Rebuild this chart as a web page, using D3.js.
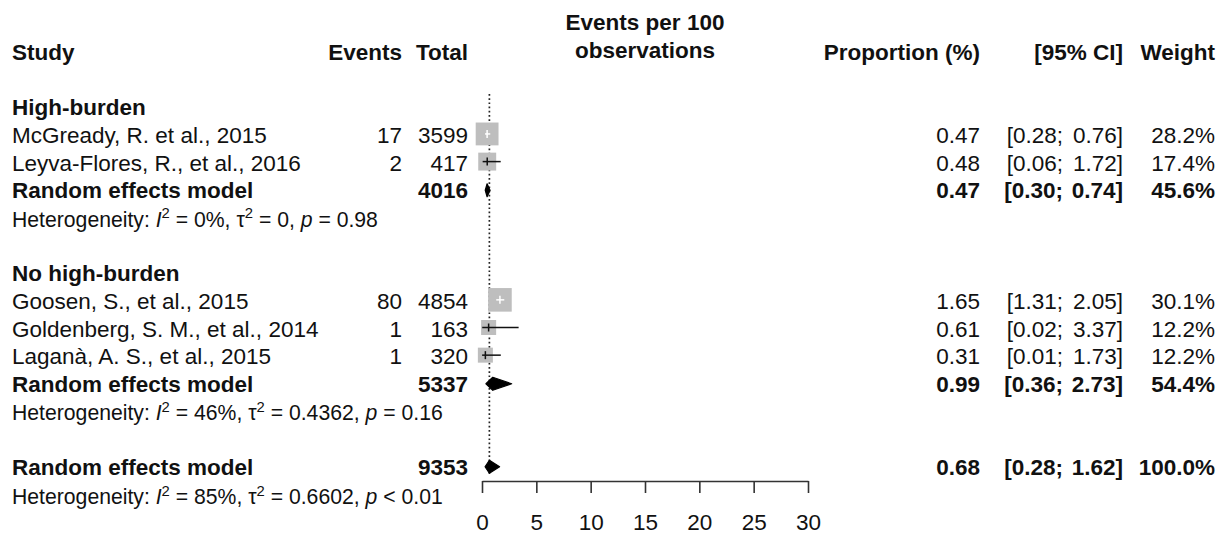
<!DOCTYPE html>
<html><head><meta charset="utf-8">
<script src="https://cdn.jsdelivr.net/npm/d3@7"></script>
<style>
html,body{margin:0;padding:0;background:#fff;}
svg text{font-family:"Liberation Sans",Arial,sans-serif;fill:#111;}
</style></head>
<body>
<svg id="chart" width="1228" height="534"></svg>
<script>
// ---- data ----
const studies = ["McGready, R. et al., 2015", "Leyva-Flores, R., et al., 2016", "Goosen, S., et al., 2015", "Goldenberg, S. M., et al., 2014", "Laganà, A. S., et al., 2015"];
const studyGroup = [0, 0, 1, 1, 1];
const events = [17, 2, 80, 1, 1];
const totals = [3599, 417, 4854, 163, 320];
const props = [0.47, 0.48, 1.65, 0.61, 0.31];
const lower = [0.28, 0.06, 1.31, 0.02, 0.01];
const upper = [0.76, 1.72, 2.05, 3.37, 1.73];
const weights = [28.2, 17.4, 30.1, 12.2, 12.2];

const groupNames = ["High-burden", "No high-burden"];
const groupTotals = [4016, 5337];
const groupProps = [0.47, 0.99];
const groupLower = [0.30, 0.36];
const groupUpper = [0.74, 2.73];
const groupWeights = [45.6, 54.4];
const groupI2 = ["0%", "46%"];
const groupTau2 = ["0", "0.4362"];
const groupP = ["= 0.98", "= 0.16"];

const overallTotal = 9353;
const overallProp = 0.68;
const overallLower = 0.28;
const overallUpper = 1.62;
const overallWeight = 100.0;
const overallI2 = "85%";
const overallTau2 = "0.6602";
const overallP = "< 0.01";

const xTicks = [0, 5, 10, 15, 20, 25, 30];
const headers = {study: "Study", events: "Events", total: "Total", plot: ["Events per 100", "observations"], prop: "Proportion (%)", ci: "[95% CI]", weight: "Weight"};

// ---- layout ----
const svg = d3.select("#chart");
const FS = 22.5, FSH = 21.2;
const x = d3.scaleLinear().domain([0, 30]).range([482, 808]);
const sq = d3.scaleSqrt().domain([0, 100]).range([0, 43]);
const col = {study: 12, events: 402, total: 468, prop: 980, ciLo: 1063, ciHi: 1123, weight: 1215};
const rowH = 27.65, row0 = 52;
const rowY = i => row0 + i * rowH;

function txt(xp, yp, s, opt = {}) {
  return svg.append("text").attr("x", xp).attr("y", yp).attr("dy", "0.36em")
    .attr("font-size", opt.size || FS).attr("font-weight", opt.bold ? "bold" : "normal")
    .attr("text-anchor", opt.anchor || "start").text(s);
}
const f2 = v => v.toFixed(2);
const fw = v => v.toFixed(1) + "%";

// headers
txt(col.study, rowY(0), headers.study, {bold: true});
txt(col.events, rowY(0), headers.events, {bold: true, anchor: "end"});
txt(col.total, rowY(0), headers.total, {bold: true, anchor: "end"});
txt((x(0) + x(30)) / 2, 22, headers.plot[0], {bold: true, anchor: "middle"});
txt((x(0) + x(30)) / 2, 50, headers.plot[1], {bold: true, anchor: "middle"});
txt(col.prop, rowY(0), headers.prop, {bold: true, anchor: "end"});
txt(col.ciHi, rowY(0), headers.ci, {bold: true, anchor: "end"});
txt(col.weight, rowY(0), headers.weight, {bold: true, anchor: "end"});

// reference line at overall estimate
svg.append("line").attr("x1", x(overallProp)).attr("x2", x(overallProp))
  .attr("y1", 94).attr("y2", 474).attr("stroke", "#222").attr("stroke-width", 1.7)
  .attr("stroke-dasharray", "1.7,2.5");

function hetText(yp, I2, tau2, p) {
  const t = svg.append("text").attr("x", col.study).attr("y", yp).attr("dy", "0.36em").attr("font-size", FSH);
  t.append("tspan").text("Heterogeneity: ");
  t.append("tspan").attr("font-style", "italic").text("I");
  t.append("tspan").attr("font-size", FSH * 0.7).attr("dy", "-0.55em").text("2");
  t.append("tspan").attr("dy", "0.385em").text(" = " + I2 + ", \u03C4");
  t.append("tspan").attr("font-size", FSH * 0.7).attr("dy", "-0.55em").text("2");
  t.append("tspan").attr("dy", "0.385em").text(" = " + tau2 + ", ");
  t.append("tspan").attr("font-style", "italic").text("p");
  t.append("tspan").text(" " + p);
}

function diamond(yp, est, lo, hi) {
  const h = 6.5;
  const pts = [[x(lo), yp], [x(est), yp - h], [x(hi), yp], [x(est), yp + h]];
  svg.append("path").attr("d", d3.line()(pts) + "Z").attr("fill", "#000").attr("stroke", "#000").attr("stroke-width", 1.2).attr("stroke-linejoin", "round");
}

function summaryRow(r, total, est, lo, hi, w) {
  const yp = rowY(r);
  txt(col.study, yp, "Random effects model", {bold: true});
  txt(col.total, yp, String(total), {bold: true, anchor: "end"});
  txt(col.prop, yp, f2(est), {bold: true, anchor: "end"});
  txt(col.ciLo, yp, "[" + f2(lo) + ";", {bold: true, anchor: "end"});
  txt(col.ciHi, yp, f2(hi) + "]", {bold: true, anchor: "end"});
  txt(col.weight, yp, fw(w), {bold: true, anchor: "end"});
  diamond(yp, est, lo, hi);
}

let r = 2;
groupNames.forEach((g, gi) => {
  txt(col.study, rowY(r), g, {bold: true});
  r++;
  studies.forEach((s, i) => {
    if (studyGroup[i] !== gi) return;
    const yp = rowY(r);
    txt(col.study, yp, s);
    txt(col.events, yp, String(events[i]), {anchor: "end"});
    txt(col.total, yp, String(totals[i]), {anchor: "end"});
    txt(col.prop, yp, f2(props[i]), {anchor: "end"});
    txt(col.ciLo, yp, "[" + f2(lower[i]) + ";", {anchor: "end"});
    txt(col.ciHi, yp, f2(upper[i]) + "]", {anchor: "end"});
    txt(col.weight, yp, fw(weights[i]), {anchor: "end"});
    const side = sq(weights[i]);
    const cx = x(props[i]);
    svg.append("rect").attr("x", cx - side / 2).attr("y", yp - side / 2 - 1)
      .attr("width", side).attr("height", side).attr("fill", "#bebebe");
    const inside = x(lower[i]) >= cx - side / 2 && x(upper[i]) <= cx + side / 2;
    const lc = inside ? "#fff" : "#111";
    svg.append("line").attr("x1", x(lower[i])).attr("x2", x(upper[i])).attr("y1", yp - 1).attr("y2", yp - 1)
      .attr("stroke", lc).attr("stroke-width", 1.5);
    svg.append("line").attr("x1", cx).attr("x2", cx).attr("y1", yp - 5).attr("y2", yp + 3)
      .attr("stroke", lc).attr("stroke-width", 1.5);
    r++;
  });
  summaryRow(r, groupTotals[gi], groupProps[gi], groupLower[gi], groupUpper[gi], groupWeights[gi]);
  r++;
  hetText(rowY(r) + 1, groupI2[gi], groupTau2[gi], groupP[gi]);
  r += 2;
});
// overall
r = 15;
summaryRow(r, overallTotal, overallProp, overallLower, overallUpper, overallWeight);
hetText(rowY(r + 1) + 2, overallI2, overallTau2, overallP);

// axis
const axis = d3.axisBottom(x).tickValues(xTicks).tickSize(12).tickPadding(21).tickSizeOuter(0);
const ag = svg.append("g").attr("transform", "translate(0,481)").call(axis);
ag.select(".domain").attr("stroke", "#333").attr("stroke-width", 1.6);
ag.selectAll(".tick line").attr("stroke", "#333").attr("stroke-width", 1.6);
ag.selectAll(".tick text").attr("font-size", FS).attr("font-family", "Liberation Sans, Arial, sans-serif").attr("fill", "#111");
</script>
</body></html>
